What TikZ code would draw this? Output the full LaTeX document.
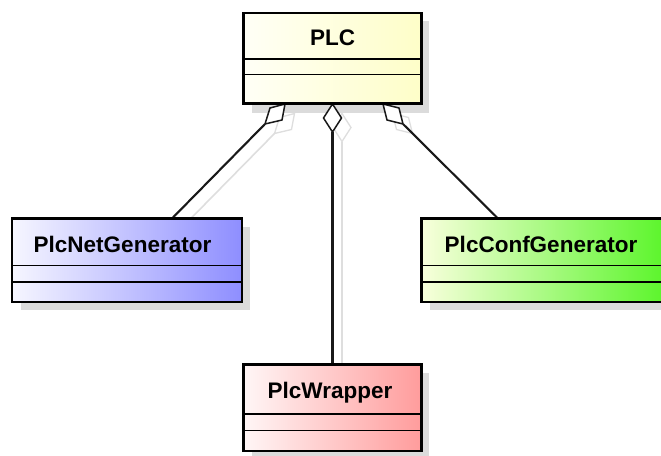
\documentclass[tikz,border=0pt]{standalone}
\usepackage{fontspec}
\setmainfont{Liberation Sans}
\definecolor{plcL}{HTML}{FFFFF6}
\definecolor{plcR}{HTML}{FEFEC8}
\definecolor{netL}{HTML}{F6F6FF}
\definecolor{netR}{HTML}{8E8EFF}
\definecolor{confL}{HTML}{F8FFDC}
\definecolor{confR}{HTML}{5CF52C}
\definecolor{wrpL}{HTML}{FFF6F6}
\definecolor{wrpR}{HTML}{FF9C9C}
\begin{document}
\begin{tikzpicture}[x=1pt,y=-1pt,
  cls/.style={draw=black, line width=2.6pt, rectangle, inner sep=0pt, outer sep=0pt},
  boxshadow/.style={fill=black!14, draw=none},
  divider/.style={line width=1.3pt},
  conn/.style={line width=2.1pt, draw=black!90},
  ghost/.style={line width=1.6pt, draw=black!13},
  agg/.style={draw=black!90, line width=1.5pt, fill=white, line join=miter},
  ghostagg/.style={draw=black!13, line width=1.3pt, fill=white},
  gs/.style={shift={(9.5,9.5)}},
  lbl/.style={font=\bfseries\fontsize{22.5}{27}\selectfont, anchor=base, inner sep=0pt}
]
\useasboundingbox (0,0) rectangle (661,455);

% box shadows
\fill[boxshadow] (251.5,21) rectangle (429,113);
\fill[boxshadow] (21,227) rectangle (250,310);
\fill[boxshadow] (430,227) rectangle (671,310);
\fill[boxshadow] (251.5,373) rectangle (429,460);

% connector end points
\coordinate (n1) at (172,218.5);
\coordinate (f1) at (265,124);
\coordinate (a1) at (270,108);
\coordinate (t1) at (285,104);
\coordinate (b1) at (282,120);
\coordinate (n2) at (332.5,364.5);
\coordinate (f2) at (332.5,132);
\coordinate (a2) at (323.5,118);
\coordinate (t2) at (332.5,104);
\coordinate (b2) at (341.5,118);
\coordinate (n3) at (498,218.5);
\coordinate (f3) at (403,124);
\coordinate (a3) at (387,120);
\coordinate (t3) at (383,104);
\coordinate (b3) at (399,108);

% ghost (shadow) connectors
\draw[ghost] ([gs]n1) -- ([gs]f1);
\draw[ghost] ([gs]n2) -- ([gs]f2);
\draw[ghostagg] ([gs]t1) -- ([gs]a1) -- ([gs]f1) -- ([gs]b1) -- cycle;
\draw[ghostagg] ([gs]t2) -- ([gs]a2) -- ([gs]f2) -- ([gs]b2) -- cycle;
\draw[ghostagg] ([gs]t3) -- ([gs]a3) -- ([gs]f3) -- ([gs]b3) -- cycle;

% connectors
\draw[conn] (n1) -- (f1);
\draw[conn] (n2) -- (f2);
\draw[conn] (n3) -- (f3);
\draw[agg] (t1) -- (a1) -- (f1) -- (b1) -- cycle;
\draw[agg] (t2) -- (a2) -- (f2) -- (b2) -- cycle;
\draw[agg] (t3) -- (a3) -- (f3) -- (b3) -- cycle;

% classes
\node[cls, left color=plcL, right color=plcR, minimum width=178pt, minimum height=90.5pt] (plc) at (332.5,58.25) {};
\draw[divider] (plc.west |- 0,59) -- (plc.east |- 0,59);
\draw[divider] (plc.west |- 0,74.5) -- (plc.east |- 0,74.5);
\node[lbl] (plct) at (332.5,45) {PLC};

\node[cls, left color=netL, right color=netR, minimum width=230pt, minimum height=83.5pt] (net) at (127,260.25) {};
\draw[divider] (net.west |- 0,265.5) -- (net.east |- 0,265.5);
\draw[divider] (net.west |- 0,282) -- (net.east |- 0,282);
\node[lbl] (nett) at (122.5,252) {PlcNetGenerator};

\node[cls, left color=confL, right color=confR, minimum width=242pt, minimum height=83.5pt] (conf) at (542.5,260.25) {};
\draw[divider] (conf.west |- 0,265.5) -- (conf.east |- 0,265.5);
\draw[divider] (conf.west |- 0,282) -- (conf.east |- 0,282);
\node[lbl] (conft) at (541,252) {PlcConfGenerator};

\node[cls, left color=wrpL, right color=wrpR, minimum width=178pt, minimum height=86.5pt] (wrp) at (332.5,407.75) {};
\draw[divider] (wrp.west |- 0,414) -- (wrp.east |- 0,414);
\draw[divider] (wrp.west |- 0,430.5) -- (wrp.east |- 0,430.5);
\node[lbl] (wrpt) at (330,398) {PlcWrapper};
\end{tikzpicture}
\end{document}
